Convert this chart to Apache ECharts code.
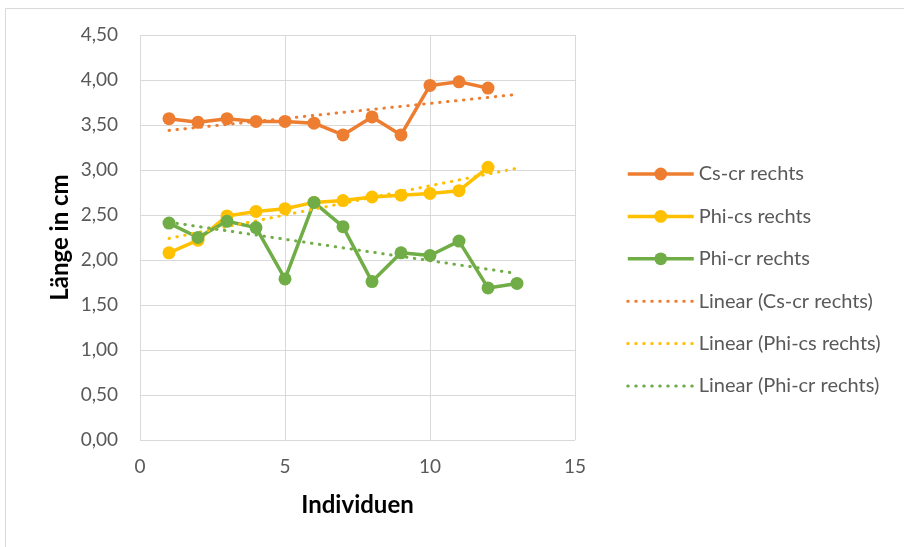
<!DOCTYPE html>
<html>
<head>
<meta charset="utf-8">
<script src="https://cdn.jsdelivr.net/npm/echarts@6/dist/echarts.min.js"></script>
<style>
  html, body { margin: 0; padding: 0; background: #fff; }
  #chart { width: 904px; height: 547px; }
</style>
</head>
<body>
<div id="chart"></div>
<script>
// Individuals on the x axis
const individuals = [1, 2, 3, 4, 5, 6, 7, 8, 9, 10, 11, 12, 13];

// Measured lengths in cm (right side)
const csCrRechts  = [3.57, 3.53, 3.57, 3.54, 3.54, 3.52, 3.39, 3.59, 3.39, 3.94, 3.98, 3.91];
const phiCsRechts = [2.08, 2.22, 2.49, 2.54, 2.57, 2.64, 2.66, 2.70, 2.72, 2.74, 2.77, 3.03];
const phiCrRechts = [2.41, 2.25, 2.43, 2.36, 1.79, 2.64, 2.37, 1.76, 2.08, 2.05, 2.21, 1.69, 1.74];

// Linear trend lines: [x, y] at start and end
const trendCsCr  = [[1, 3.44], [13, 3.84]];
const trendPhiCs = [[1, 2.24], [13, 3.02]];
const trendPhiCr = [[1, 2.42], [13, 1.85]];

// Axis ticks
const yTicks = { min: 0, max: 4.5, step: 0.5 };
const xTicks = { min: 0, max: 15, step: 5 };

const seriesNames = [
  'Cs-cr rechts', 'Phi-cs rechts', 'Phi-cr rechts',
  'Linear (Cs-cr rechts)', 'Linear (Phi-cs rechts)', 'Linear (Phi-cr rechts)'
];
const colors = ['#ED7D31', '#FFC000', '#70AD47'];

const pair = (vals) => vals.map((v, i) => [individuals[i], v]);

const FONT = 'Lato';
const TEXT = '#595959';
const DOTS = [0.5, 7.5];

function dataSeries(name, vals, color) {
  return {
    name, type: 'line', data: pair(vals),
    symbol: 'circle', symbolSize: 13, showSymbol: true,
    lineStyle: { color, width: 3.5 },
    itemStyle: { color },
    emphasis: { disabled: true },
    animation: false
  };
}
function trendSeries(name, pts, color) {
  return {
    name, type: 'line', data: pts,
    symbol: 'none', showSymbol: false, z: 3,
    lineStyle: { color, width: 3, type: DOTS, cap: 'round' },
    itemStyle: { color },
    emphasis: { disabled: true },
    animation: false
  };
}

const legendData = seriesNames.map((name, i) => i < 3
  ? { name, lineStyle: { width: 3.5 } }
  : { name, itemStyle: { opacity: 0 }, lineStyle: { width: 3, type: DOTS, cap: 'round' } });

const chart = echarts.init(document.getElementById('chart'), null, { renderer: 'canvas' });
chart.setOption({
  backgroundColor: '#ffffff',
  animation: false,
  graphic: [{
    type: 'rect', silent: true, z: -10,
    shape: { x: 5.5, y: 8.5, width: 1000, height: 1000 },
    style: { fill: 'none', stroke: '#d9d9d9', lineWidth: 1 }
  }],
  grid: { left: 140, top: 35, width: 435, height: 405, containLabel: false },
  xAxis: {
    type: 'value', min: xTicks.min, max: xTicks.max, interval: xTicks.step,
    name: 'Individuen', nameLocation: 'middle', nameGap: 53,
    nameTextStyle: { fontFamily: FONT, fontWeight: 'bold', fontSize: 24, color: '#000' },
    axisLine: { show: false }, axisTick: { show: false },
    axisLabel: { fontFamily: FONT, fontSize: 19, color: TEXT, margin: 17 },
    splitLine: { show: true, lineStyle: { color: '#d9d9d9', width: 1 } }
  },
  yAxis: {
    type: 'value', min: yTicks.min, max: yTicks.max, interval: yTicks.step,
    name: 'Länge in cm', nameLocation: 'middle', nameGap: 68, nameRotate: 90,
    nameTextStyle: { fontFamily: FONT, fontWeight: 'bold', fontSize: 24, color: '#000' },
    axisLine: { show: false }, axisTick: { show: false },
    axisLabel: {
      fontFamily: FONT, fontSize: 19, color: TEXT, margin: 22,
      formatter: (v) => v.toFixed(2).replace('.', ',')
    },
    splitLine: { show: true, lineStyle: { color: '#d9d9d9', width: 1 } }
  },
  legend: {
    orient: 'vertical', left: 626, top: 164, padding: 0,
    itemWidth: 66, itemHeight: 16, itemGap: 22.4,
    data: legendData,
    textStyle: { fontFamily: FONT, fontSize: 20, lineHeight: 20, color: TEXT },
    selectedMode: false
  },
  series: [
    dataSeries(seriesNames[0], csCrRechts, colors[0]),
    dataSeries(seriesNames[1], phiCsRechts, colors[1]),
    dataSeries(seriesNames[2], phiCrRechts, colors[2]),
    trendSeries(seriesNames[3], trendCsCr, colors[0]),
    trendSeries(seriesNames[4], trendPhiCs, colors[1]),
    trendSeries(seriesNames[5], trendPhiCr, colors[2])
  ]
});
</script>
</body>
</html>
